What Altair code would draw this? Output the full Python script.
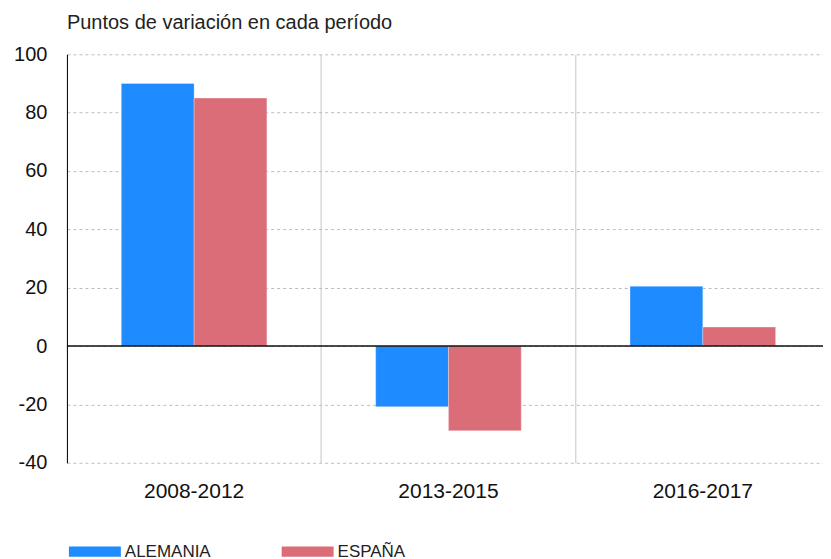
import altair as alt
import pandas as pd

periods = ["2008-2012", "2013-2015", "2016-2017"]
series = ["ALEMANIA", "ESPAÑA"]
alemania = [90.0, -20.8, 20.5]
espana = [85.0, -29.0, 6.5]
colors = ["#1E8BFF", "#DB6D79"]
y_ticks = [-40, -20, 0, 20, 40, 60, 80, 100]

rows = []
for i, p in enumerate(periods):
    rows.append({"periodo": p, "serie": series[0], "valor": alemania[i]})
    rows.append({"periodo": p, "serie": series[1], "valor": espana[i]})
df = pd.DataFrame(rows)

FONT = "Liberation Sans"

bars = alt.Chart(df).mark_bar(stroke="white", strokeWidth=0.6, strokeOpacity=0.5).encode(
    x=alt.X("periodo:N", sort=periods, title=None,
            scale=alt.Scale(paddingInner=0, paddingOuter=0),
            axis=alt.Axis(labelAngle=0, labelFontSize=21, labelFont=FONT, labelColor="#111",
                          labelPadding=18, ticks=False, domain=False,
                          grid=True, gridColor="#c4c4c4", gridWidth=1, bandPosition=0)),
    xOffset=alt.XOffset("serie:N", sort=series,
                        scale=alt.Scale(paddingInner=0, paddingOuter=0.747)),
    y=alt.Y("valor:Q", title=None,
            scale=alt.Scale(domain=[-40, 100], nice=False, zero=False),
            axis=alt.Axis(values=y_ticks, labelFontSize=20, labelFont=FONT, labelColor="#111",
                          labelPadding=20, ticks=False, domain=True, domainColor="#000",
                          labelExpr="replace(datum.label, '−', '-')",
                          domainWidth=1, grid=True, gridColor="#bdbdbd", gridDash=[3, 3],
                          gridWidth=1)),
    color=alt.Color("serie:N", sort=series,
                    scale=alt.Scale(domain=series, range=colors),
                    legend=alt.Legend(title=None, orient="none", legendX=2, legendY=472,
                                      direction="horizontal", columns=2,
                                      symbolType="M-1,-0.2L1,-0.2L1,0.2L-1,0.2Z",
                                      symbolSize=2704, symbolStrokeWidth=0,
                                      labelFont=FONT,
                                      labelFontSize=17, labelColor="#222",
                                      labelOffset=4, columnPadding=71, symbolOpacity=1)),
)

zero = alt.Chart(pd.DataFrame({"v": [0]})).mark_rule(color="#111", strokeWidth=1.5).encode(
    y=alt.Y("v:Q")
)

chart = alt.layer(bars, zero).properties(
    width=764, height=409,
    padding={"left": 5, "top": 5, "right": -8, "bottom": 0},
    title=alt.TitleParams("Puntos de variación en cada período", anchor="start", frame="group",
                          font=FONT, fontSize=20, fontWeight="normal", color="#222", offset=11),
    background="white",
).configure_view(stroke=None)

chart.save("out.html", embed_options={"renderer": "svg", "actions": False})
